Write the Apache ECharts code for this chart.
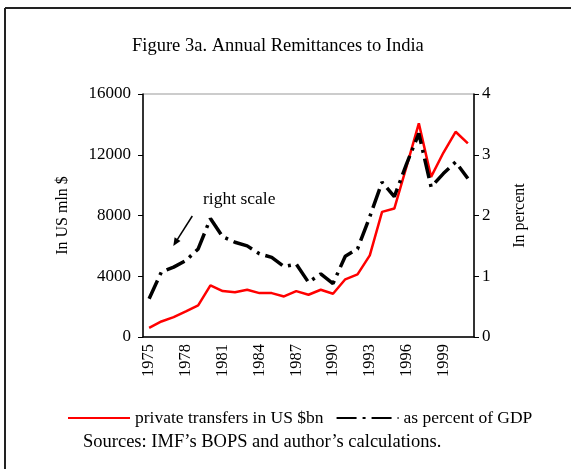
<!DOCTYPE html>
<html>
<head>
<meta charset="utf-8">
<script src="https://cdn.jsdelivr.net/npm/echarts@6/dist/echarts.min.js"></script>
<style>
  html, body { margin: 0; padding: 0; background: #fff; }
  #chart { width: 571px; height: 469px; }
</style>
</head>
<body>
<div id="chart"></div>
<script>
// years on the x axis
var years = ['1975','1976','1977','1978','1979','1980','1981','1982','1983','1984',
             '1985','1986','1987','1988','1989','1990','1991','1992','1993','1994',
             '1995','1996','1997','1998','1999','2000','2001'];
// private transfers, US mln $ (left scale)
var transfers = [607, 1023, 1307, 1683, 2078, 3398, 3022, 2950, 3110, 2890,
                 2890, 2670, 3020, 2780, 3110, 2850, 3800, 4124, 5377, 8236,
                 8456, 11227, 14064, 10545, 12129, 13513, 12745];
// as percent of GDP (right scale)
var gdpShare = [0.63, 1.07, 1.15, 1.26, 1.45, 1.95, 1.65, 1.56, 1.50, 1.37,
                1.31, 1.16, 1.20, 0.90, 1.04, 0.88, 1.33, 1.45, 1.98, 2.55,
                2.31, 2.85, 3.35, 2.47, 2.69, 2.88, 2.61];

var serif = 'Liberation Serif';

var dom = document.getElementById('chart');
var myChart = echarts.init(dom);

var option = {
    animation: false,
    title: {
        text: 'Figure 3a. Annual Remittances to India',
        left: 127,
        top: 32,
        textStyle: { fontFamily: serif, fontSize: 18.5, fontWeight: 'normal', color: '#000' }
    },
    legend: {
        left: 62,
        top: 404,
        itemWidth: 62,
        itemHeight: 14,
        itemGap: 12,
        itemStyle: { opacity: 0 },
        textStyle: { fontFamily: serif, fontSize: 17.5, color: '#000' },
        data: ['private transfers in US $bn', 'as percent of GDP']
    },
    grid: {
        left: 143,
        right: 97,
        top: 94,
        bottom: 132,
        show: true,
        borderColor: '#999',
        borderWidth: 1
    },
    xAxis: {
        type: 'category',
        data: years,
        boundaryGap: true,
        axisLine: { lineStyle: { color: '#000', width: 1.5 } },
        axisTick: { interval: 1, length: 5, lineStyle: { color: '#000' } },
        axisLabel: {
            interval: 2,
            rotate: 90,
            margin: 7,
            fontFamily: serif,
            fontSize: 16.5,
            color: '#000'
        }
    },
    yAxis: [
        {
            type: 'value',
            min: 0,
            max: 16000,
            interval: 4000,
            name: 'In US mln $',
            nameLocation: 'middle',
            nameRotate: 90,
            nameGap: 72,
            nameTextStyle: { fontFamily: serif, fontSize: 16, color: '#000' },
            splitLine: { show: false },
            axisLine: { show: true, lineStyle: { color: '#000', width: 1.5 } },
            axisTick: { show: true, length: 5, lineStyle: { color: '#000' } },
            axisLabel: {
                margin: 12, fontFamily: serif, fontSize: 17, color: '#000',
                formatter: function (value) { return String(value); }
            }
        },
        {
            type: 'value',
            min: 0,
            max: 4,
            interval: 1,
            position: 'right',
            name: 'In percent',
            nameLocation: 'middle',
            nameRotate: 90,
            nameGap: 38,
            nameTextStyle: { fontFamily: serif, fontSize: 16, color: '#000' },
            splitLine: { show: false },
            axisLine: { show: true, lineStyle: { color: '#000', width: 1.5 } },
            axisTick: { show: true, length: 5, lineStyle: { color: '#000' } },
            axisLabel: { margin: 8, fontFamily: serif, fontSize: 17, color: '#000' }
        }
    ],
    series: [
        {
            name: 'private transfers in US $bn',
            type: 'line',
            yAxisIndex: 0,
            data: transfers,
            symbol: 'none',
            lineStyle: { color: '#ff0000', width: 2.5 },
            itemStyle: { color: '#ff0000' }
        },
        {
            name: 'as percent of GDP',
            type: 'line',
            yAxisIndex: 1,
            data: gdpShare,
            symbol: 'none',
            lineStyle: { color: '#000', width: 3.5, type: [20, 6, 3, 6] },
            itemStyle: { color: '#000' }
        }
    ],
    graphic: [
        // frame (top and left edges only)
        { type: 'line', shape: { x1: 5, y1: 8, x2: 571, y2: 8 }, style: { stroke: '#222', lineWidth: 2 } },
        { type: 'line', shape: { x1: 5, y1: 8, x2: 5, y2: 469 }, style: { stroke: '#222', lineWidth: 2 } },
        // right scale note
        {
            type: 'text', left: 203, top: 190,
            style: { text: 'right scale', font: '17.5px "Liberation Serif"', fill: '#000' }
        },
        { type: 'line', shape: { x1: 192.3, y1: 216, x2: 176, y2: 241.7 }, style: { stroke: '#000', lineWidth: 1.5 } },
        { type: 'polygon', shape: { points: [[173.3, 246], [180.5, 241.1], [174.6, 237.3]] }, style: { fill: '#000' } },
        // sources
        {
            type: 'text', left: 83, top: 433,
            style: { text: 'Sources: IMF\u2019s BOPS and author\u2019s calculations.', font: '18.5px "Liberation Serif"', fill: '#000' }
        }
    ]
};
myChart.setOption(option, true);
</script>
</body>
</html>
